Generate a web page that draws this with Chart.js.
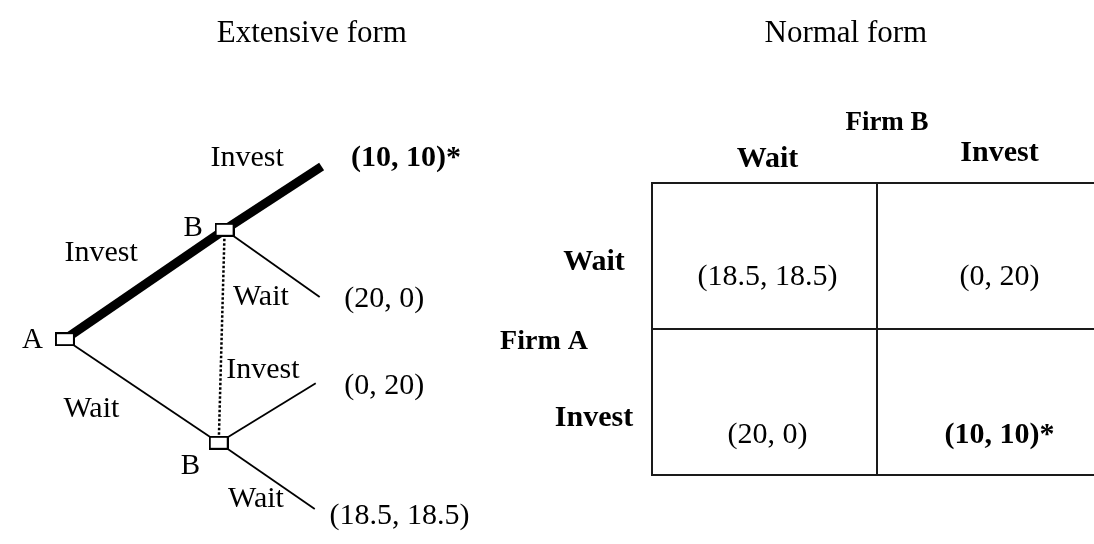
<!DOCTYPE html>
<html>
<head>
<meta charset="utf-8">
<script src="https://cdn.jsdelivr.net/npm/chart.js@4.4.1/dist/chart.umd.min.js"></script>
<style>
  html, body { margin: 0; padding: 0; background: #fff; overflow: hidden; }
  #wrap { position: relative; width: 1094px; height: 544px; overflow: hidden; }
  canvas { position: absolute; left: 0; top: 0; }
</style>
</head>
<body>
<div id="wrap">
  <canvas id="tree-chart" width="1094" height="544"></canvas>
  <canvas id="table-chart" width="1110" height="544"></canvas>
</div>
<script>
// ---- extensive form: nodes of the tree and its branches
const treeNodes = [
  { id: "A",  x: 55,  y: 342, player: "A" },
  { id: "B1", x: 218, y: 228, player: "B" },
  { id: "B2", x: 212, y: 450, player: "B" },
  { id: "T1", x: 317, y: 162 },
  { id: "T2", x: 315, y: 298 },
  { id: "T3", x: 311, y: 388 },
  { id: "T4", x: 310, y: 519 }
];
const treeBranches = [
  { from: "A",  to: "B1", action: "Invest", path: true },
  { from: "A",  to: "B2", action: "Wait",   path: false },
  { from: "B1", to: "T1", action: "Invest", path: true },
  { from: "B1", to: "T2", action: "Wait",   path: false },
  { from: "B2", to: "T3", action: "Invest", path: false },
  { from: "B2", to: "T4", action: "Wait",   path: false }
];
const infoSet = ["B1", "B2"];
const leafPayoffs = { T1: [10, 10], T2: [20, 0], T3: [0, 20], T4: [18.5, 18.5] };
const equilibriumLeaf = "T1";

// ---- normal form
const firmAStrategies = ["Wait", "Invest"];   // rows
const firmBStrategies = ["Wait", "Invest"];   // columns
const payoffMatrix = [
  [[18.5, 18.5], [0, 20]],
  [[20, 0], [10, 10]]
];
const nashCell = [1, 1];

const titles = ["Extensive form", "Normal form"];

const SERIF = "'Liberation Serif', 'Times New Roman', serif";

// text spots (layout only)
const playerLabelPos = { A: [-33, 1], B1: [-32, -1], B2: [-29, 25] };
const actionLabelPos = [[92, 252], [82, 415], [241, 153], [255, 298], [257, 374], [250, 509]];
const payoffLabelPos = { T1: [347, 153], T2: [340, 300], T3: [340, 391], T4: [325, 526] };

function fmtPayoff(p, star) {
  return "(" + p[0] + ", " + p[1] + ")" + (star ? "*" : "");
}

function drawText(ctx, str, x, y, o) {
  ctx.save();
  ctx.font = (o.bold ? "bold " : "") + o.size + "px " + SERIF;
  ctx.fillStyle = "#000";
  ctx.textAlign = o.align || "center";
  ctx.textBaseline = "middle";
  ctx.fillText(str, x, y);
  ctx.restore();
}

const nodeById = {};
treeNodes.forEach(n => { nodeById[n.id] = n; });

// the little square of a decision node
const nodeBox = document.createElement("canvas");
nodeBox.width = 20;
nodeBox.height = 14;
(function () {
  const c = nodeBox.getContext("2d");
  c.fillStyle = "#fff";
  c.fillRect(0, 0, 20, 14);
  c.strokeStyle = "#000";
  c.lineWidth = 2;
  c.strokeRect(1, 1, 18, 12);
})();

function drawTree() {
  const datasets = treeBranches.map(b => ({
    data: [{ x: nodeById[b.from].x, y: nodeById[b.from].y }, { x: nodeById[b.to].x, y: nodeById[b.to].y }],
    showLine: true,
    borderColor: "#000",
    borderWidth: b.path ? 9 : 1.8,
    pointRadius: 0,
    order: 2
  }));

  // information set of firm B
  datasets.push({
    data: infoSet.map(id => ({ x: nodeById[id].x, y: nodeById[id].y })),
    showLine: true,
    borderColor: "#000",
    borderWidth: 2.5,
    borderDash: [2.5, 2],
    pointRadius: 0,
    order: 2
  });

  datasets.push({
    data: treeNodes.filter(n => n.player).map(n => ({ x: n.x, y: n.y })),
    showLine: false,
    pointStyle: nodeBox,
    pointRadius: 10,
    order: 0
  });

  const labelsPlugin = {
    id: "treeLabels",
    afterDraw(chart) {
      const ctx = chart.ctx;
      const xs = chart.scales.x, ys = chart.scales.y;
      const px = v => xs.getPixelForValue(v);
      const py = v => ys.getPixelForValue(v);

      drawText(ctx, titles[0], px(307), py(24), { size: 31 });
      drawText(ctx, titles[1], px(852), py(24), { size: 31 });

      treeNodes.filter(n => n.player).forEach(n => {
        const d = playerLabelPos[n.id];
        drawText(ctx, n.player, px(n.x + d[0]), py(n.y + d[1]), { size: 29 });
      });

      treeBranches.forEach((b, i) => {
        const p = actionLabelPos[i];
        drawText(ctx, b.action, px(p[0]), py(p[1]), { size: 30 });
      });

      Object.keys(leafPayoffs).forEach(id => {
        const p = payoffLabelPos[id];
        const eq = id === equilibriumLeaf;
        drawText(ctx, fmtPayoff(leafPayoffs[id], eq), px(p[0]), py(p[1]),
          { size: 30, bold: eq, align: "left" });
      });
    }
  };

  return new Chart(document.getElementById("tree-chart"), {
    type: "scatter",
    data: { datasets },
    options: {
      responsive: false,
      animation: false,
      layout: { padding: 0 },
      scales: {
        x: { type: "linear", display: false, min: 0, max: 1094 },
        y: { type: "linear", display: false, min: 0, max: 544, reverse: true }
      },
      plugins: { legend: { display: false }, tooltip: { enabled: false } }
    },
    plugins: [labelsPlugin]
  });
}

function drawTable() {
  const colShift = [3, 10];
  const labelShift = [6, 16];
  const payoffShift = [21, 33];

  const cellsPlugin = {
    id: "tableCells",
    afterDraw(chart) {
      const ctx = chart.ctx;
      const xs = chart.scales.x, ys = chart.scales.y;
      const area = chart.chartArea;

      // Firm B (bottom edge of the caption is cut off in the original)
      ctx.save();
      ctx.beginPath();
      ctx.rect(0, 0, chart.width, 131);
      ctx.clip();
      drawText(ctx, "Firm B", 887, 123, { size: 27, bold: true });
      ctx.restore();

      const headY = [area.top - 24, area.top - 30];
      firmBStrategies.forEach((s, c) => {
        drawText(ctx, s, xs.getPixelForValue(c) + colShift[c], headY[c], { size: 30, bold: true });
      });

      drawText(ctx, "Firm A", area.left - 108, 342, { size: 28, bold: true });
      firmAStrategies.forEach((s, r) => {
        drawText(ctx, s, area.left - 58, ys.getPixelForValue(r) + labelShift[r], { size: 30, bold: true });
      });

      payoffMatrix.forEach((row, r) => {
        row.forEach((p, c) => {
          const eq = r === nashCell[0] && c === nashCell[1];
          const x = xs.getPixelForValue(c) + colShift[c];
          const y = ys.getPixelForValue(r) + payoffShift[r];
          drawText(ctx, fmtPayoff(p, eq), x, y, { size: 30, bold: eq });
        });
      });
    }
  };

  const axis = {
    type: "category",
    offset: true,
    grid: { offset: true, color: "#1a1a1a", lineWidth: 2, drawTicks: false },
    border: { display: true, color: "#1a1a1a", width: 2 },
    ticks: { display: false }
  };

  return new Chart(document.getElementById("table-chart"), {
    type: "line",
    data: { labels: firmBStrategies, datasets: [] },
    options: {
      responsive: false,
      animation: false,
      layout: { padding: { left: 652, top: 183, right: 8, bottom: 69 } },
      scales: {
        x: Object.assign({}, axis, { position: "top", labels: firmBStrategies }),
        y: Object.assign({}, axis, { position: "left", labels: firmAStrategies })
      },
      plugins: { legend: { display: false }, tooltip: { enabled: false } }
    },
    plugins: [cellsPlugin]
  });
}

drawTree();
drawTable();
</script>
</body>
</html>
